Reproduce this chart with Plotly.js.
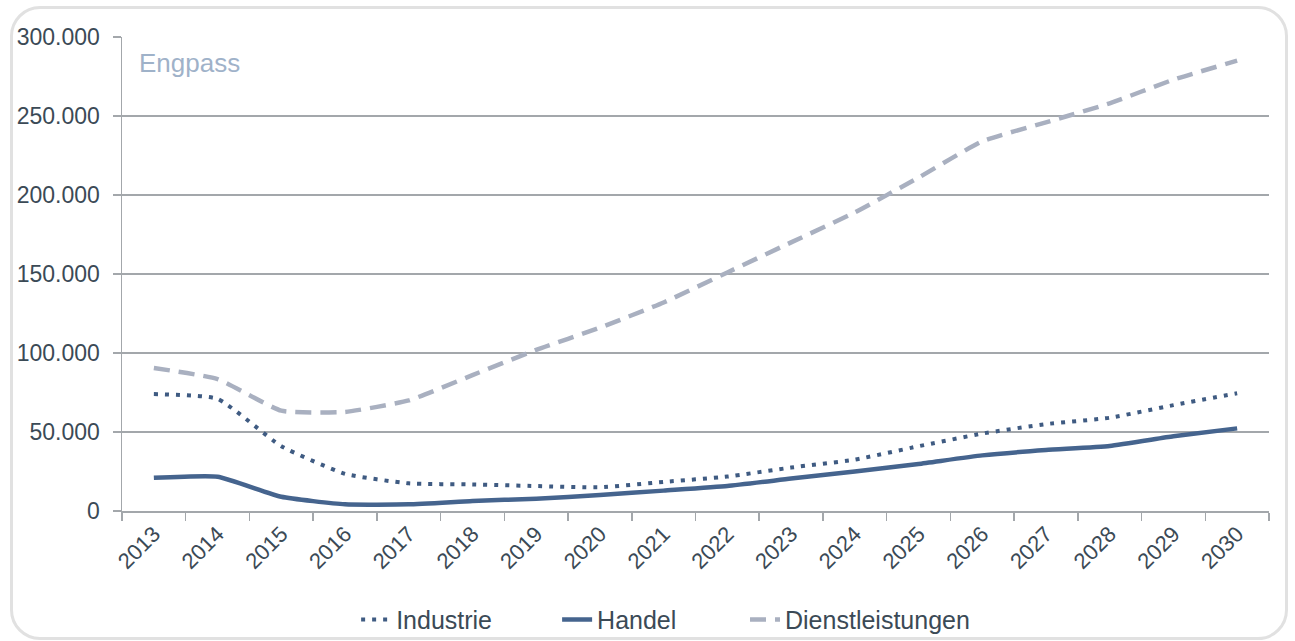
<!DOCTYPE html>
<html>
<head>
<meta charset="utf-8">
<script src="https://cdn.plot.ly/plotly-3.0.1.min.js"></script>
<style>
  html, body { margin: 0; padding: 0; background: #ffffff; }
  #wrap { position: relative; width: 1295px; height: 641px; overflow: hidden; }
  #chart { position: absolute; left: 0; top: 0; width: 1295px; height: 641px; }
  #frame { position: absolute; left: 10px; top: 6px; width: 1278px; height: 634px;
           border: 3px solid #e1e1e1; border-radius: 30px; box-sizing: border-box; pointer-events: none; }
</style>
</head>
<body>
<div id="wrap">
  <div id="chart"></div>
  <div id="frame"></div>
</div>
<script>
const years = ['2013','2014','2015','2016','2017','2018','2019','2020','2021','2022','2023','2024','2025','2026','2027','2028','2029','2030'];
const industrie = [74000, 71000, 41000, 23500, 17500, 16800, 15800, 15000, 18400, 21800, 27500, 32500, 41000, 49000, 55000, 59000, 67000, 74500];
const handel = [21000, 21700, 9000, 4200, 4200, 6300, 7800, 10100, 12900, 15800, 20500, 25000, 29800, 35200, 38600, 41200, 47300, 52300];
const dienst = [90500, 83500, 63500, 62700, 70000, 86000, 102000, 116000, 132000, 151000, 170000, 189000, 211000, 234000, 246000, 258000, 273000, 285000];
const yTicks = [0, 50000, 100000, 150000, 200000, 250000, 300000];

const textColor = '#3b4a56';
const gridColor = '#a3a7ab';
const font = 'Liberation Sans, Arial, sans-serif';

const traces = [
  { x: years, y: industrie, name: 'Industrie', type: 'scatter', mode: 'lines', legend: 'legend',
    line: { color: '#3f5b82', width: 4, dash: '4px,7px', shape: 'spline', smoothing: 0.45 } },
  { x: years, y: handel, name: 'Handel', type: 'scatter', mode: 'lines', legend: 'legend2',
    line: { color: '#45648e', width: 4.5, shape: 'spline', smoothing: 0.45 } },
  { x: years, y: dienst, name: 'Dienstleistungen', type: 'scatter', mode: 'lines', legend: 'legend3',
    line: { color: '#a9b0c0', width: 4.5, dash: '16px,9px', shape: 'spline', smoothing: 0.45 } }
];

function leg(x) {
  return { orientation: 'h', xref: 'container', yref: 'container', x: x, xanchor: 'left', y: 0.033, yanchor: 'middle',
           font: { family: font, size: 25, color: textColor }, bgcolor: 'rgba(0,0,0,0)', borderwidth: 0 };
}

const layout = {
  width: 1295, height: 641,
  margin: { l: 122, r: 26, t: 37, b: 130, autoexpand: false },
  paper_bgcolor: 'rgba(0,0,0,0)',
  plot_bgcolor: 'rgba(0,0,0,0)',
  separators: ',.',
  font: { family: font, size: 20, color: textColor },
  showlegend: true,
  legend: leg(0.2750),
  legend2: leg(0.4302),
  legend3: leg(0.5753),
  xaxis: {
    type: 'category', tickangle: -45, tickson: 'boundaries',
    ticks: 'outside', ticklen: 8, tickcolor: gridColor, tickwidth: 1.5,
    showline: true, linecolor: gridColor, linewidth: 1.5,
    showgrid: false, zeroline: false,
    tickfont: { family: font, size: 22, color: textColor },
    range: [-0.5, 17.5], fixedrange: true
  },
  yaxis: {
    range: [0, 300000], tickvals: yTicks, tickformat: ',d',
    ticks: 'outside', ticklen: 8, tickcolor: gridColor, tickwidth: 1.5,
    showline: true, linecolor: gridColor, linewidth: 1.5,
    showgrid: true, gridcolor: gridColor, gridwidth: 1.2, zeroline: false,
    tickfont: { family: font, size: 23, color: textColor },
    ticklabelstandoff: 8, fixedrange: true
  },
  annotations: [
    { text: 'Engpass', xref: 'paper', yref: 'paper', x: 0.013, y: 0.945, xanchor: 'left', yanchor: 'middle',
      showarrow: false, font: { family: font, size: 26, color: '#9fb2c9' } }
  ]
};

Plotly.newPlot('chart', traces, layout, { displayModeBar: false, staticPlot: true });
</script>
</body>
</html>
